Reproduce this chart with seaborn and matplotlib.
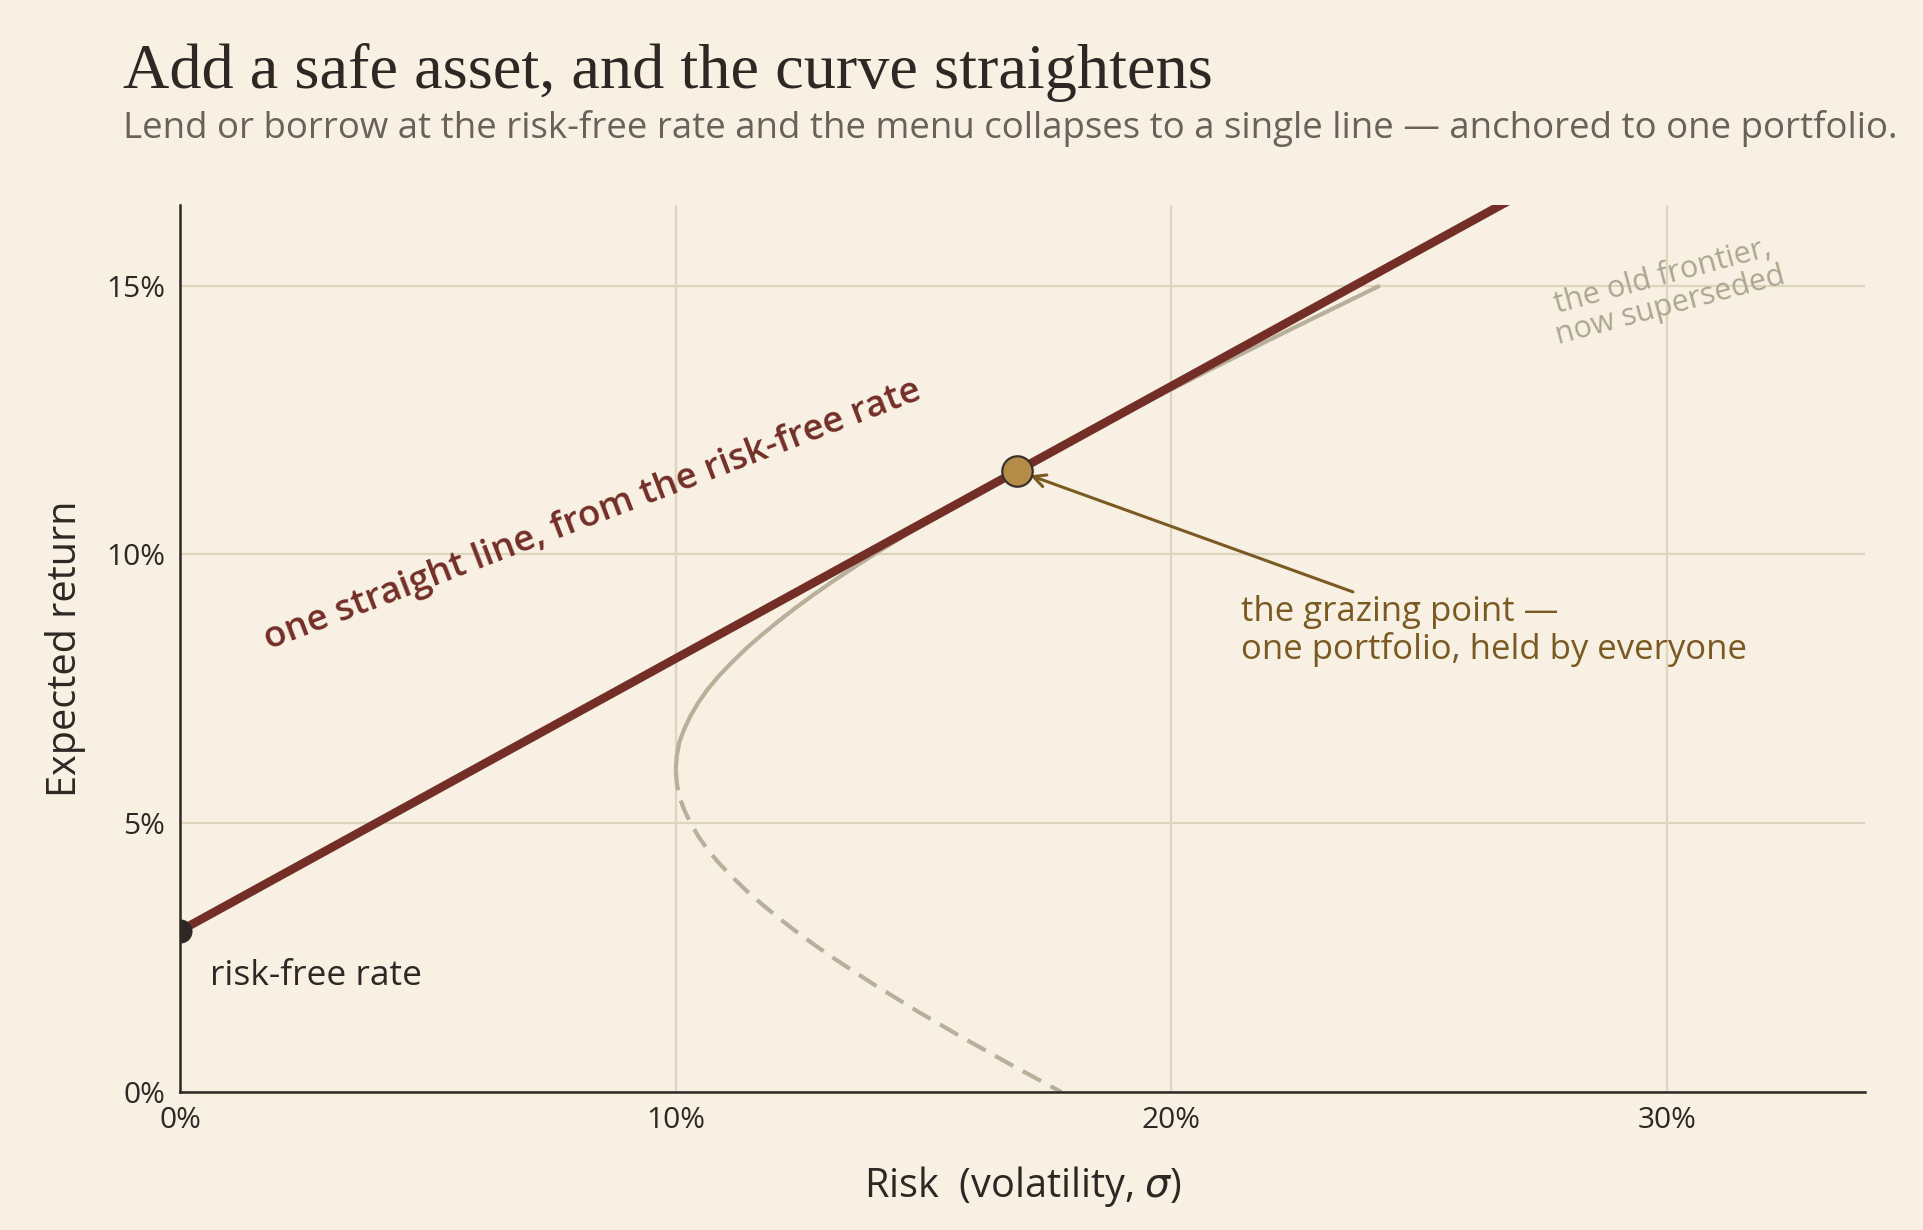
import numpy as np
import pandas as pd
import matplotlib
matplotlib.use("Agg")
import matplotlib.pyplot as plt
import seaborn as sns

# ---------------- data ----------------
# efficient frontier, upper (efficient) branch: expected return (%) and risk (%)
upper_return = [6.0, 6.25, 6.5, 6.75, 7.0, 7.25, 7.5, 7.75, 8.0, 8.25, 8.5, 8.75,
                9.0, 9.25, 9.5, 9.75, 10.0, 10.5, 11.0, 11.5, 12.0, 12.5, 13.0,
                13.5, 14.0, 14.5, 15.0]
upper_risk = [10.0, 10.02, 10.07, 10.17, 10.30, 10.46, 10.65, 10.88, 11.14, 11.42,
              11.73, 12.06, 12.41, 12.78, 13.17, 13.58, 14.0, 14.88, 15.81, 16.78,
              17.78, 18.80, 19.85, 20.92, 22.0, 23.10, 24.21]
# lower (inefficient) branch
lower_return = [6.0, 5.75, 5.5, 5.25, 5.0, 4.75, 4.5, 4.25, 4.0, 3.75, 3.5, 3.25,
                3.0, 2.75, 2.5, 2.25, 2.0, 1.5, 1.0, 0.5, 0.0]
lower_risk = [10.0, 10.02, 10.07, 10.17, 10.30, 10.46, 10.65, 10.88, 11.14, 11.42,
              11.73, 12.06, 12.41, 12.78, 13.17, 13.58, 14.0, 14.88, 15.81, 16.78,
              17.78]
# capital market line: from the risk-free rate through the tangency portfolio
cml_risk = [0.0, 34.0]
cml_return = [3.0, 20.22]
rf_risk = [0.0]
rf_return = [3.0]
tangent_risk = [16.89]
tangent_return = [11.56]

x_ticks = [0, 10, 20, 30]
x_tick_labels = ["0%", "10%", "20%", "30%"]
y_ticks = [0, 5, 10, 15]
y_tick_labels = ["0%", "5%", "10%", "15%"]

title = "Add a safe asset, and the curve straightens"
subtitle = ("Lend or borrow at the risk-free rate and the menu collapses to a single "
            "line \u2014 anchored to one portfolio.")

# ---------------- style ----------------
BG = "#F7F0E3"
INK = "#2E2724"
CML_C = "#732E27"
FRONT_C = "#B8B09B"
GRID_C = "#DED5BE"
GOLD = "#B48C48"
ANNOT_C = "#7A5A22"
OLD_C = "#ADA68F"
SUB_C = "#6A615A"

sns.set_theme(style="white", rc={
    "figure.facecolor": BG,
    "axes.facecolor": BG,
    "savefig.facecolor": BG,
})
SANS = ["Open Sans", "DejaVu Sans"]
SERIF = ["Liberation Serif", "DejaVu Serif"]
plt.rcParams["font.family"] = SANS
plt.rcParams["mathtext.fontset"] = "dejavusans"

fig = plt.figure(figsize=(19.24, 12.30), dpi=100)
ax = fig.add_axes([0.0937, 0.1122, 0.9693 - 0.0937, 0.8333 - 0.1122])

upper_df = pd.DataFrame({"risk": upper_risk, "ret": upper_return})
lower_df = pd.DataFrame({"risk": lower_risk, "ret": lower_return})
cml_df = pd.DataFrame({"risk": cml_risk, "ret": cml_return})

sns.lineplot(data=lower_df, x="risk", y="ret", sort=False, estimator=None, ax=ax,
             color=FRONT_C, linewidth=3.0, linestyle=(0, (5.0, 2.6)), zorder=2)
sns.lineplot(data=upper_df, x="risk", y="ret", sort=False, estimator=None, ax=ax,
             color=FRONT_C, linewidth=3.0, zorder=2, solid_capstyle="butt")
sns.lineplot(data=cml_df, x="risk", y="ret", sort=False, estimator=None, ax=ax,
             color=CML_C, linewidth=6.2, zorder=3, solid_capstyle="butt")
sns.scatterplot(x=rf_risk, y=rf_return, ax=ax, color=INK, s=300, linewidth=0, zorder=5)
sns.scatterplot(x=tangent_risk, y=tangent_return, ax=ax, color=GOLD, s=480,
                edgecolor="#3A302A", linewidth=1.6, zorder=6)

ax.set_xlim(0, 34)
ax.set_ylim(0, 16.5)
ax.set_xticks(x_ticks)
ax.set_xticklabels(x_tick_labels)
ax.set_yticks(y_ticks)
ax.set_yticklabels(y_tick_labels)
ax.tick_params(axis="both", length=0, labelsize=21.5, colors=INK)
ax.tick_params(axis="x", pad=10)
ax.tick_params(axis="y", pad=11)

ax.grid(True, color=GRID_C, linewidth=1.6, zorder=0)
ax.set_axisbelow(True)
for s in ["top", "right"]:
    ax.spines[s].set_visible(False)
for s in ["left", "bottom"]:
    ax.spines[s].set_color(INK)
    ax.spines[s].set_linewidth(1.8)
    ax.spines[s].set_zorder(4)

ax.set_xlabel("Risk  (volatility, $\\sigma$)", fontsize=28.5, color=INK)
ax.set_ylabel("Expected return", fontsize=28.5, color=INK)
ax.xaxis.set_label_coords(0.5, -0.081)
ax.yaxis.set_label_coords(-0.0558, 0.5)

# annotations
ax.text(8.33, 10.73, "one straight line, from the risk-free rate", fontsize=26.5,
        color=CML_C, rotation=21.0, ha="center", va="center",
        rotation_mode="anchor", fontweight="semibold")
ax.text(30.0, 14.9, "the old frontier,\nnow superseded", fontsize=22, color=OLD_C,
        rotation=15, ha="center", va="center", rotation_mode="anchor",
        linespacing=1.05)
ax.text(0.6, 2.15, "risk-free rate", fontsize=25.5, color=INK, ha="left", va="center")
ax.annotate("the grazing point \u2014\none portfolio, held by everyone",
            xy=(17.15, 11.47), xytext=(21.4, 8.57), fontsize=25, color=ANNOT_C,
            ha="left", va="center", linespacing=1.12, fontweight="medium",
            arrowprops=dict(arrowstyle="->", color=ANNOT_C, lw=2.2,
                            shrinkA=0, shrinkB=0, mutation_scale=22,
                            relpos=(0.24, 1.0)))

fig.text(0.0638, 0.9285, title, fontsize=46.3, color=INK, family=SERIF,
         ha="left", va="baseline")
fig.text(0.0638, 0.8878, subtitle, fontsize=26.4, color=SUB_C, ha="left",
         va="baseline")

fig.savefig("out.png", dpi=100, facecolor=BG)
